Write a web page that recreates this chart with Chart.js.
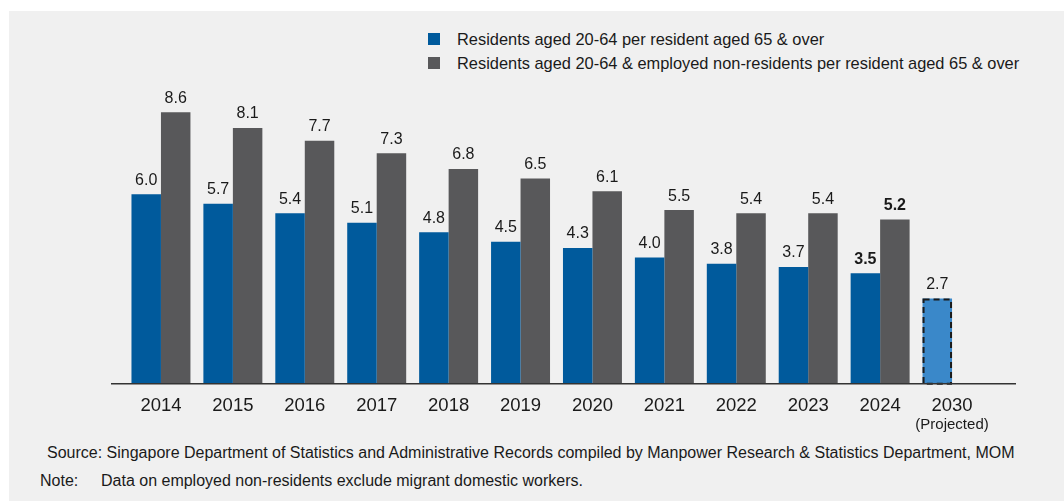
<!DOCTYPE html>
<html>
<head>
<meta charset="utf-8">
<script src="https://cdn.jsdelivr.net/npm/chart.js@4"></script>
<style>
  body { margin: 0; background: #ffffff; font-family: "Liberation Sans", Arial, sans-serif; color: #1a1a1a; }
  #panel { position: absolute; left: 9px; top: 11px; width: 1055px; height: 490px; background: #f0f0f0; }
  #wrap { position: absolute; left: 0; top: 0; width: 1064px; height: 440px; }
  .legend { position: absolute; left: 428px; font-size: 16.4px; line-height: 18px; }
  .legend span.box { position: absolute; left: 0; top: 3px; width: 12px; height: 12px; }
  .legend span.txt { position: absolute; left: 29px; top: 0; white-space: nowrap; }
  .foot { position: absolute; font-size: 16px; white-space: nowrap; }
</style>
</head>
<body>
<div id="panel"></div>
<div class="legend" style="top:30px"><span class="box" style="background:#005a9c"></span><span class="txt">Residents aged 20-64 per resident aged 65 &amp; over</span></div>
<div class="legend" style="top:54px"><span class="box" style="background:#58585a"></span><span class="txt">Residents aged 20-64 &amp; employed non-residents per resident aged 65 &amp; over</span></div>
<div id="wrap"><canvas id="chart"></canvas></div>
<div class="foot" style="left:47px; top:444px">Source: Singapore Department of Statistics and Administrative Records compiled by Manpower Research &amp; Statistics Department, MOM</div>
<div class="foot" style="left:40px; top:472px">Note:</div>
<div class="foot" style="left:101px; top:472px">Data on employed non-residents exclude migrant domestic workers.</div>
<script>
// years on the x axis, 2030 is a projection
const years = ["2014", "2015", "2016", "2017", "2018", "2019", "2020", "2021", "2022", "2023", "2024", "2030"];
const residentRatio = [6.0, 5.7, 5.4, 5.1, 4.8, 4.5, 4.3, 4.0, 3.8, 3.7, 3.5, 2.7];
const withNonResidents = [8.6, 8.1, 7.7, 7.3, 6.8, 6.5, 6.1, 5.5, 5.4, 5.4, 5.2, null];

const projectedIdx = years.indexOf("2030");
const latestIdx = years.indexOf("2024");

const blue = "#005a9c";
const grey = "#58585a";
const lightBlue = "#3a88c9";

//numbers above each bar, latest year in bold
const valueLabels = {
  id: "valueLabels",
  afterDatasetsDraw(chart) {
    const ctx = chart.ctx;
    ctx.save();
    ctx.fillStyle = "#1a1a1a";
    ctx.textAlign = "center";
    ctx.textBaseline = "bottom";
    chart.data.datasets.forEach((ds, i) => {
      const meta = chart.getDatasetMeta(i);
      meta.data.forEach((bar, j) => {
        const v = ds.data[j];
        if (v === null) return;
        ctx.font = (j === latestIdx ? "bold " : "") + "16px 'Liberation Sans', Arial, sans-serif";
        ctx.fillText(v.toFixed(1), bar.x, bar.y - 6);
      });
    });
    ctx.restore();
  },
};

//dashed outline for the projected bar, baseline and "(Projected)" note
const extras = {
  id: "extras",
  afterDatasetsDraw(chart) {
    const ctx = chart.ctx;
    const area = chart.chartArea;
    const y0 = chart.scales.y.getPixelForValue(0);
    ctx.save();

    const bar = chart.getDatasetMeta(0).data[projectedIdx];
    const half = bar.width / 2;
    ctx.strokeStyle = "#1a1a1a";
    ctx.lineWidth = 2;
    ctx.setLineDash([6, 4]);
    ctx.strokeRect(bar.x - half + 1, bar.y + 1, bar.width - 2, y0 - bar.y - 1);
    ctx.setLineDash([]);

    ctx.strokeStyle = "#333333";
    ctx.lineWidth = 1.5;
    ctx.beginPath();
    ctx.moveTo(area.left - 14, y0);
    ctx.lineTo(area.right + 28, y0);
    ctx.stroke();

    const x = chart.scales.x.getPixelForValue(projectedIdx);
    ctx.fillStyle = "#1a1a1a";
    ctx.font = "15px 'Liberation Sans', Arial, sans-serif";
    ctx.textAlign = "center";
    ctx.textBaseline = "middle";
    ctx.fillText("(Projected)", x, y0 + 41);
    ctx.restore();
  },
};

new Chart(document.getElementById("chart"), {
  type: "bar",
  data: {
    labels: years,
    datasets: [
      {
        label: "Residents aged 20-64 per resident aged 65 & over",
        data: residentRatio,
        backgroundColor: years.map((y, i) => (i === projectedIdx ? lightBlue : blue)),
      },
      {
        label: "Residents aged 20-64 & employed non-residents per resident aged 65 & over",
        data: withNonResidents,
        backgroundColor: grey,
      },
    ],
  },
  options: {
    responsive: true,
    maintainAspectRatio: false,
    animation: false,
    layout: { padding: { top: 68, left: 125, right: 76, bottom: 20 } },
    plugins: { legend: { display: false }, tooltip: { enabled: false } },
    datasets: { bar: { categoryPercentage: 0.82, barPercentage: 1.0 } },
    scales: {
      x: {
        grid: { display: false },
        border: { display: false },
        ticks: {
          color: "#1a1a1a",
          padding: 3,
          font: { family: "'Liberation Sans', Arial, sans-serif", size: 18.5 },
        },
      },
      y: { display: false, min: 0, max: 10 },
    },
  },
  plugins: [valueLabels, extras],
});
</script>
</body>
</html>
